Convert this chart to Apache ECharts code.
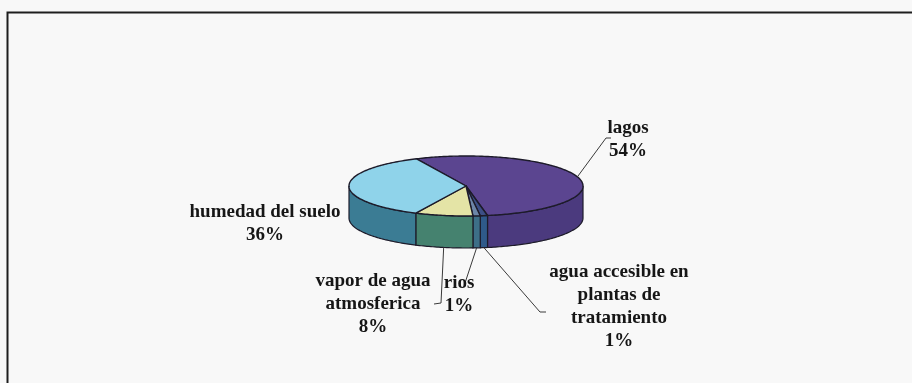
<!DOCTYPE html>
<html>
<head>
<meta charset="utf-8">
<script src="https://cdn.jsdelivr.net/npm/echarts@6/dist/echarts.min.js"></script>
<style>
  html, body { margin: 0; padding: 0; background: #ffffff; }
  #chart { width: 912px; height: 383px; }
</style>
</head>
<body>
<div id="chart"></div>
<script>
// Distribución del agua dulce accesible (porcentajes)
const categories = [
  'lagos',
  'agua accesible en\nplantas de\ntratamiento',
  'rios',
  'vapor de agua\natmosferica',
  'humedad del suelo'
];
const shares = [54, 1, 1, 8, 36];

// Colours of the top face and of the visible rim for each slice
const topColors  = ['#5b4590', '#3c4f86', '#6d86a8', '#e4e4a6', '#8fd3ea'];
const sideColors = ['#4b3a7e', '#2f5a8a', '#3d6f88', '#45826f', '#3b7c94'];

// Where each label block sits (centre x, top y) and where its leader line ends
const labelSpots = {
  0: { x: 628, y: 117, leader: [[606, 138], [611, 138]] },
  1: { x: 619, y: 261, leader: [[540, 312], [546, 312]] },
  2: { x: 459, y: 272, leader: [[465, 283]] },
  3: { x: 373, y: 270, leader: [[441, 303], [434, 304]] },
  4: { x: 265, y: 201, leader: null }
};

// Pie geometry (tilted disc)
const pie = { cx: 466, cy: 186, rx: 117, ry: 30, depth: 32, startDeg: -115 };

const total = shares.reduce((a, b) => a + b, 0);
let acc = pie.startDeg;
const seriesData = shares.map((v, i) => {
  const a0 = acc;
  const a1 = acc + v / total * 360;
  acc = a1;
  return { name: categories[i], value: [v, a0, a1] };
});

function pt(deg, dy) {
  const r = deg * Math.PI / 180;
  return [pie.cx + pie.rx * Math.cos(r), pie.cy + pie.ry * Math.sin(r) + (dy || 0)];
}
function arc(a0, a1, dy) {
  const pts = [];
  const n = Math.max(2, Math.ceil(Math.abs(a1 - a0)));
  for (let k = 0; k <= n; k++) pts.push(pt(a0 + (a1 - a0) * k / n, dy));
  return pts;
}

const LINE = '#1d1b2a';

function renderItem(params, api) {
  const i = params.dataIndex;
  const v = api.value(0);
  const a0 = api.value(1);
  const a1 = api.value(2);
  const children = [];

  // visible rim: the part of the slice facing the viewer (0..180 deg)
  for (const off of [-360, 0, 360]) {
    const s0 = Math.max(a0 + off, 0);
    const s1 = Math.min(a1 + off, 180);
    if (s1 > s0) {
      const upper = arc(s0, s1, 0);
      const lower = arc(s1, s0, pie.depth);
      children.push({
        type: 'polygon',
        shape: { points: upper.concat(lower) },
        style: { fill: sideColors[i], stroke: LINE, lineWidth: 1.2 }
      });
    }
  }

  // top face
  children.push({
    type: 'polygon',
    shape: { points: [[pie.cx, pie.cy]].concat(arc(a0, a1, 0)) },
    style: { fill: topColors[i], stroke: LINE, lineWidth: 1.4, lineJoin: 'round' }
  });

  // leader line from the slice edge to its label
  const spot = labelSpots[i];
  if (spot.leader) {
    const mid = (a0 + a1) / 2;
    const s = Math.sin(mid * Math.PI / 180);
    const start = pt(mid, s > 0 ? pie.depth : 0);
    children.push({
      type: 'polyline',
      shape: { points: [start].concat(spot.leader) },
      style: { stroke: '#3a3a3a', lineWidth: 1, fill: null }
    });
  }

  // label: name and share
  children.push({
    type: 'text',
    style: {
      text: categories[i] + '\n' + v + '%',
      x: spot.x,
      y: spot.y,
      align: 'center',
      verticalAlign: 'top',
      fill: '#161616',
      font: 'bold 19px "Liberation Serif", "Times New Roman", serif',
      lineHeight: 23
    }
  });

  return { type: 'group', children: children };
}

const chart = echarts.init(document.getElementById('chart'), null, { renderer: 'canvas' });
chart.setOption({
  backgroundColor: '#f8f8f8',
  animation: false,
  graphic: [{
    type: 'polyline',
    shape: { points: [[912, 12.5], [7.5, 12.5], [7.5, 383]] },
    style: { stroke: '#1e1e1e', lineWidth: 2, fill: null },
    z: 10
  }],
  series: [{
    type: 'custom',
    coordinateSystem: 'none',
    renderItem: renderItem,
    data: seriesData
  }]
});
</script>
</body>
</html>
